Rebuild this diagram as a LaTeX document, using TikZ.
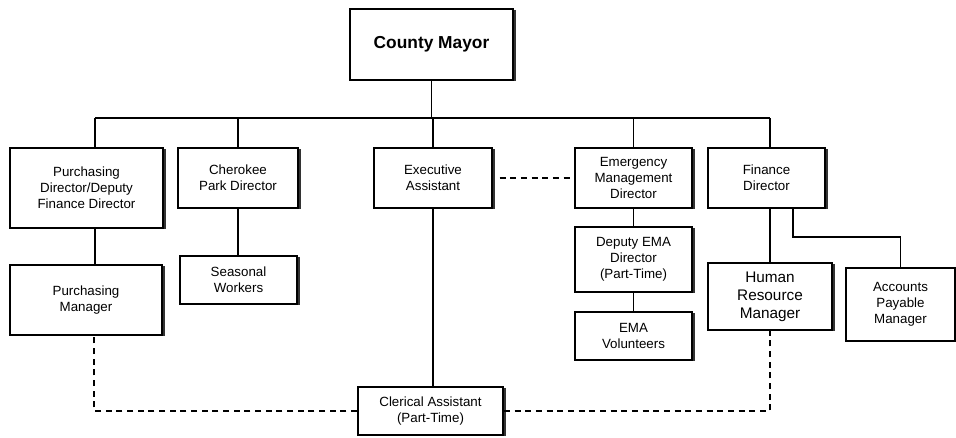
\documentclass[tikz,border=0pt]{standalone}
\usepackage{fontspec}
\setmainfont{Liberation Sans}
\usetikzlibrary{shadows}

\begin{document}
\begin{tikzpicture}[x=0.75pt,y=-0.75pt,
  box/.style={draw,line width=1.3pt,fill=white,align=center,inner sep=2pt,
    font=\fontsize{10}{12}\selectfont,
    drop shadow={shadow xshift=2.2pt,shadow yshift=-1pt,fill=black!80,opacity=1}},
  wh/.style 2 args={minimum width=#1*0.75pt,minimum height=#2*0.75pt},
  link/.style={line width=1.4pt},
  dashlink/.style={line width=1.2pt,dash pattern=on 4.5pt off 3.5pt}]
\useasboundingbox (0,0) rectangle (956,437);
\node[box,wh={163}{71},font=\bfseries\fontsize{13}{15}\selectfont] (mayor) at (431.5,44.5) {County Mayor};
\node[box,wh={153}{80}] (pdir) at (86.5,188) {Purchasing\\Director/Deputy\\Finance Director};
\node[box,wh={120}{60}] (park) at (238,178) {Cherokee\\Park Director};
\node[box,wh={118}{60}] (exec) at (433,178) {Executive\\Assistant};
\node[box,wh={117}{60}] (emd) at (633.5,178) {Emergency\\Management\\Director};
\node[box,wh={117}{60}] (fin) at (766.5,178) {Finance\\Director};
\node[box,wh={152}{70}] (pman) at (86,300) {Purchasing\\Manager};
\node[box,wh={117}{48}] (season) at (238.5,280) {Seasonal\\Workers};
\node[box,wh={117}{65}] (dep) at (633.5,259.5) {Deputy EMA\\Director\\(Part-Time)};
\node[box,wh={117}{48}] (vol) at (633.5,336) {EMA\\Volunteers};
\node[box,wh={124}{67},font=\fontsize{11.5}{13.5}\selectfont] (hrm) at (770,296.5) {Human\\Resource\\Manager};
\node[box,wh={109}{73}] (apm) at (900.5,304.5) {Accounts\\Payable\\Manager};
\node[box,wh={145}{48}] (cler) at (430.5,411) {Clerical Assistant\\(Part-Time)};
\coordinate (busL) at (95,118);
\coordinate (busR) at (770,118);
\coordinate (apmturn) at (793,237);
\draw[link] (mayor.south) -- (mayor.south |- busL);
\draw[link] (busL) -- (busR);
\draw[link] (busL) -- (busL |- pdir.north);
\foreach \n in {park,exec,emd}
  \draw[link] (\n.north) -- (\n.north |- busL);
\draw[link] (busR) -- (busR |- fin.north);
\draw[link] (busL |- pdir.south) -- (busL |- pman.north);
\draw[link] (park.south) -- (park.south |- season.north);
\draw[link] (emd) -- (dep);
\draw[link] (dep) -- (vol);
\draw[link] (busR |- fin.south) -- (hrm.north);
\draw[link] (apmturn |- fin.south) -- (apmturn) -| (apm.north);
\draw[link] (exec.south) -- (exec.south |- cler.north);
\draw[dashlink,shorten <=5pt] (exec.east) -- (emd.west);
\draw[dashlink] (cler.west) -| ([xshift=6pt]pman.south);
\draw[dashlink] (cler.east) -| (hrm.south);
\end{tikzpicture}
\end{document}
